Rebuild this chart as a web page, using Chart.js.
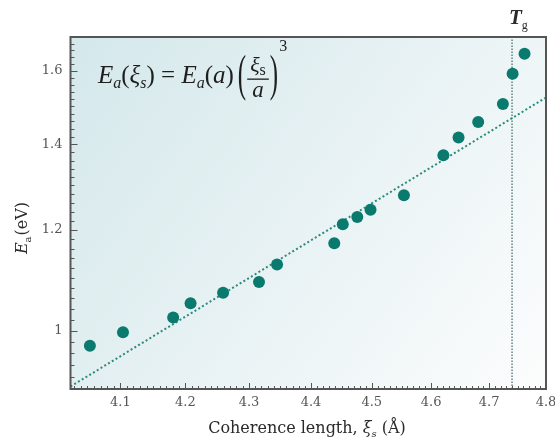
<!DOCTYPE html>
<html><head><meta charset="utf-8">
<script src="https://cdn.jsdelivr.net/npm/chart.js@4"></script>
<style>html,body{margin:0;padding:0;background:#fff}canvas{display:block}</style>
</head><body>
<canvas id="c" width="555" height="439"></canvas>
<script>
// ---- data ----
const coherenceLength = [4.054,4.104,4.181,4.208,4.259,4.316,4.345,4.438,4.452,4.476,4.498,4.554,4.621,4.647,4.681,4.724,4.741,4.762];
const activationEnergy = [0.973,0.997,1.024,1.051,1.071,1.092,1.127,1.171,1.212,1.228,1.244,1.277,1.373,1.418,1.458,1.506,1.591,1.649];
const fitLength = [4.025, 4.8];
const fitEnergy = [0.904, 1.524];
const tgLength = 4.74;
const xTickValues = [4.1,4.2,4.3,4.4,4.5,4.6,4.7,4.8];
const yTickValues = [1,1.2,1.4,1.6];
const xRange = [4.025, 4.8];
const yRange = [0.9, 1.7];

const xMinor = []; for (let i = 403; i <= 479; i++) xMinor.push(i/100);
const yMinor = []; for (let i = 46; i <= 84; i++) yMinor.push(i/50);

const SERIF = '"DejaVu Serif", serif';
const MATH = '"Liberation Serif", serif';

function runs(ctx, parts, x, y){
  for (const p of parts){
    ctx.font = p.f;
    ctx.fillText(p.t, x + (p.dx||0), y + (p.dy||0));
    x += ctx.measureText(p.t).width + (p.dx||0) + (p.after||0);
  }
  return x;
}
function runsWidth(ctx, parts){
  let w = 0;
  for (const p of parts){ ctx.font = p.f; w += ctx.measureText(p.t).width + (p.dx||0) + (p.after||0); }
  return w;
}

const deco = {
  id: 'deco',
  beforeDraw(chart){
    const {ctx, chartArea:a} = chart;
    ctx.save();
    ctx.fillStyle = '#ffffff';
    ctx.fillRect(0,0,chart.width,chart.height);
    const g = ctx.createLinearGradient(a.left, a.top, a.right, a.bottom);
    g.addColorStop(0, '#d4e8eb');
    g.addColorStop(0.5, '#e8f2f4');
    g.addColorStop(1, '#fcfdfd');
    ctx.fillStyle = g;
    ctx.fillRect(a.left, a.top, a.right-a.left, a.bottom-a.top);
    ctx.restore();
  },
  afterDraw(chart){
    const {ctx, chartArea:a} = chart;
    const xs = chart.scales.x, ys = chart.scales.y;
    ctx.save();
    // ticks (inward)
    ctx.strokeStyle = '#555'; ctx.lineWidth = 1;
    ctx.beginPath();
    for (const v of xMinor){
      const px = Math.round(xs.getPixelForValue(v)) + 0.5;
      const major = xTickValues.some(t => Math.abs(t - v) < 1e-6);
      ctx.moveTo(px, a.bottom); ctx.lineTo(px, a.bottom - (major ? 6 : 3));
    }
    for (const v of yMinor){
      const py = Math.round(ys.getPixelForValue(v)) + 0.5;
      const major = yTickValues.some(t => Math.abs(t - v) < 1e-6);
      ctx.moveTo(a.left, py); ctx.lineTo(a.left + (major ? 7 : 4), py);
    }
    ctx.stroke();
    // frame
    ctx.strokeStyle = '#555'; ctx.lineWidth = 2;
    ctx.strokeRect(a.left, a.top, a.right-a.left, a.bottom-a.top);

    ctx.fillStyle = '#2a2a2a';
    ctx.textBaseline = 'alphabetic';
    // x title
    const xt = [
      {t:'Coherence length, ', f:'16px '+SERIF},
      {t:'ξ', f:'italic 16px '+SERIF},
      {t:'s', f:'italic 10px '+SERIF, dy:4},
      {t:' (Å)', f:'16px '+SERIF}
    ];
    const xw = runsWidth(ctx, xt);
    runs(ctx, xt, 307 - xw/2, 433);
    // y title
    ctx.save();
    ctx.translate(27, 228);
    ctx.rotate(-Math.PI/2);
    const yt = [
      {t:'E', f:'italic 16px '+SERIF},
      {t:'a', f:'10px '+SERIF, dy:4, after:1},
      {t:'(eV)', f:'16px '+SERIF}
    ];
    const yw = runsWidth(ctx, yt);
    runs(ctx, yt, -yw/2, 0);
    ctx.restore();
    // T_g label
    const tgx = xs.getPixelForValue(tgLength);
    runs(ctx, [
      {t:'T', f:'italic bold 21px '+MATH},
      {t:'g', f:'12px '+MATH, dy:5}
    ], tgx - 3, 24);

    // equation
    ctx.fillStyle = '#1e1e1e';
    const M = 25, S = 16;
    const it = 'italic '+M+'px '+MATH, up = M+'px '+MATH, sub = 'italic '+S+'px '+MATH;
    let x = runs(ctx, [
      {t:'E', f:it}, {t:'a', f:sub, dy:5},
      {t:'(', f:up}, {t:'ξ', f:it}, {t:'s', f:sub, dy:5}, {t:')', f:up},
      {t:' = ', f:up},
      {t:'E', f:it}, {t:'a', f:sub, dy:5},
      {t:'(', f:up}, {t:'a', f:it}, {t:')', f:up, after:4}
    ], 98, 83);
    // big parens and fraction
    const bigParen = (ch, px) => {
      ctx.save(); ctx.translate(px, 90); ctx.scale(1, 2.05);
      ctx.font = M+'px '+MATH; ctx.fillText(ch, 0, 0);
      const w = ctx.measureText(ch).width; ctx.restore(); return w;
    };
    x += bigParen('(', x) + 1;
    const numParts = [{t:'ξ', f:'italic 22px '+MATH}, {t:'s', f:'16px '+MATH, dy:3}];
    const nw = runsWidth(ctx, numParts);
    ctx.font = 'italic 23px '+MATH; const dw = ctx.measureText('a').width;
    const fw = Math.max(nw, dw) + 6;
    runs(ctx, numParts, x + (fw - nw)/2, 72);
    ctx.fillRect(x, 78.5, fw, 1.3);
    ctx.font = 'italic 23px '+MATH; ctx.fillText('a', x + (fw - dw)/2, 97);
    x += fw + 1;
    x += bigParen(')', x);
    ctx.font = '16px '+MATH; ctx.fillText('3', x + 1, 51);
    ctx.restore();
  }
};

new Chart(document.getElementById('c').getContext('2d'), {
  type: 'scatter',
  data: { datasets: [
    { data: coherenceLength.map((x,i)=>({x, y:activationEnergy[i]})),
      backgroundColor:'#0b7a6e', borderColor:'#0b7a6e', borderWidth:0, pointRadius:6, order:0 },
    { type:'line', data: fitLength.map((x,i)=>({x, y:fitEnergy[i]})),
      borderColor:'#2a8a7e', borderWidth:2, borderDash:[2,2.4], pointRadius:0, fill:false, order:1 },
    { type:'line', data: [{x:tgLength, y:yRange[0]}, {x:tgLength, y:yRange[1]}],
      borderColor:'#3f6563', borderWidth:1.2, borderDash:[1.5,1.5], pointRadius:0, fill:false, order:2 }
  ]},
  options: {
    responsive:false, animation:false, devicePixelRatio:1,
    layout:{ padding:{ top:37, right:9, left:0, bottom:0 } },
    plugins:{ legend:{display:false}, tooltip:{enabled:false} },
    scales:{
      x:{ type:'logarithmic', min:xRange[0], max:xRange[1], bounds:'data',
          afterBuildTicks: s => { s.ticks = xTickValues.map(v => ({value:v})); },
          afterFit: s => { s.height = 50; s.paddingLeft = 0; s.paddingRight = 0; },
          ticks:{ callback: v => String(v), font:{family:SERIF, size:13}, color:'#555', padding:6, maxRotation:0, autoSkip:false },
          grid:{ display:false, drawTicks:false }, border:{display:false} },
      y:{ type:'logarithmic', min:yRange[0], max:yRange[1], bounds:'data',
          afterBuildTicks: s => { s.ticks = yTickValues.map(v => ({value:v})); },
          afterFit: s => { s.width = 70.5; s.paddingTop = 0; s.paddingBottom = 0; },
          ticks:{ callback: v => String(v), font:{family:SERIF, size:13}, color:'#555', padding:8, autoSkip:false },
          grid:{ display:false, drawTicks:false }, border:{display:false} }
    }
  },
  plugins:[deco]
});
</script>
</body></html>
